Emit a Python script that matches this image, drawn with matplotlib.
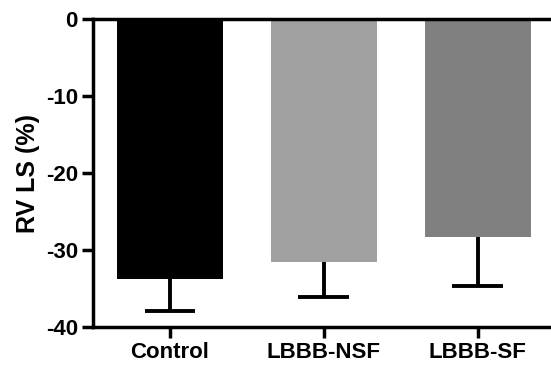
import numpy as np
from matplotlib import pyplot as plt

groups = ['Control', 'LBBB-NSF', 'LBBB-SF']
means = [-33.8, -31.6, -28.3]
sd = [4.1, 4.5, 6.4]
colors = ['#000000', '#a0a0a0', '#808080']

plt.rcParams['font.family'] = ['Liberation Sans', 'DejaVu Sans']
plt.rcParams['font.weight'] = 'bold'
plt.rcParams['axes.unicode_minus'] = False

fig = plt.figure(figsize=(5.51, 3.65), dpi=100)
ax = fig.add_axes([0.169, 0.104, 0.829, 0.844])

x = np.arange(len(groups))
ax.bar(x, means, width=0.69, color=colors, zorder=2)

# only the lower half of the error bars is shown
lower = np.array(means) - np.array(sd)
ax.vlines(x, lower, means, colors='black', linewidth=2.8, zorder=3)
ax.hlines(lower, x - 0.165, x + 0.165, colors='black', linewidth=2.8, zorder=3)

ax.set_xlim(-0.5, 2.47)
ax.set_ylim(-40, 0)
ax.set_yticks([0, -10, -20, -30, -40])
ax.set_xticks(x)
ax.set_xticklabels(groups)
ax.set_ylabel('RV LS (%)', fontsize=18, fontweight='bold', labelpad=4)

for s in ['left', 'bottom', 'top']:
    ax.spines[s].set_linewidth(2.5)
ax.spines['right'].set_visible(False)
ax.tick_params(axis='both', width=2.5, length=8, labelsize=16, pad=3)

plt.savefig('out.png', dpi=100)
